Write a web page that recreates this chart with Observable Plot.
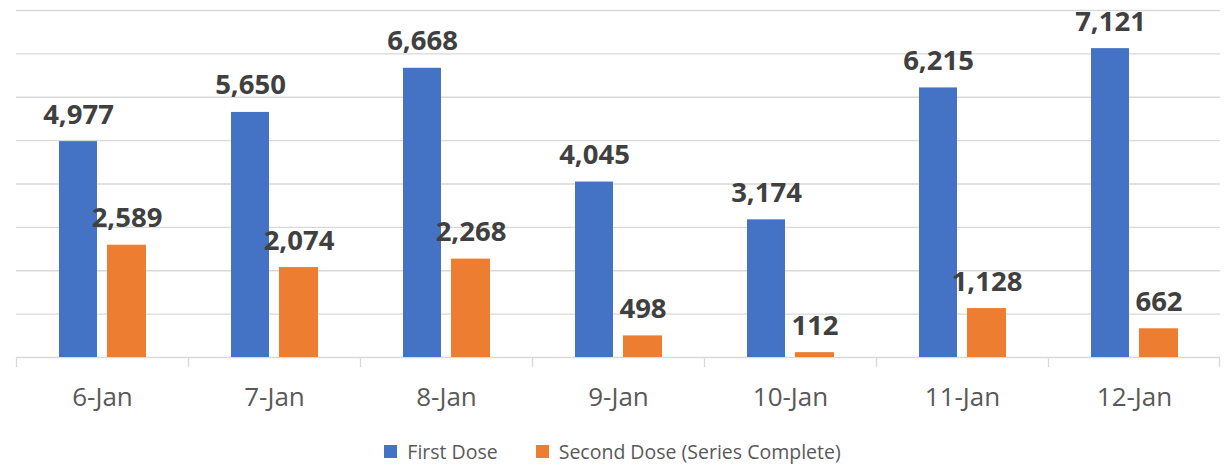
<!DOCTYPE html>
<html>
<head>
<meta charset="utf-8">
<script src="https://cdn.jsdelivr.net/npm/d3@7"></script>
<script src="https://cdn.jsdelivr.net/npm/@observablehq/plot@0.6"></script>
<style>
  html, body { margin: 0; padding: 0; background: #fff; }
  #chart { width: 1225px; }
  .legend { display: flex; justify-content: center; align-items: center; height: 43px; font-family: "Open Sans", sans-serif; font-size: 19.5px; color: #595959; padding-left: 0px; }
  .legend .item { display: flex; align-items: center; }
  .legend .sw { width: 13px; height: 13px; margin-right: 10px; }
  .legend .item + .item { margin-left: 38px; }
</style>
</head>
<body>
<div id="chart"></div>
<script>
const dates = ["6-Jan", "7-Jan", "8-Jan", "9-Jan", "10-Jan", "11-Jan", "12-Jan"];
const firstDose = [4977, 5650, 6668, 4045, 3174, 6215, 7121];
const secondDose = [2589, 2074, 2268, 498, 112, 1128, 662];
const seriesNames = ["First Dose", "Second Dose (Series Complete)"];
const seriesColors = ["#4472C4", "#ED7D31"];
const yTicks = [1000, 2000, 3000, 4000, 5000, 6000, 7000, 8000];

const first = dates.map((d, i) => ({date: d, value: firstDose[i], series: seriesNames[0]}));
const second = dates.map((d, i) => ({date: d, value: secondDose[i], series: seriesNames[1]}));

const W = 1225, H = 430, mL = 16, mR = 5, mT = 10, mB = 73;
const half = (W - mL - mR) / dates.length / 2;
const fmt = d3.format(",");
const grid = "#d9d9d9";

const chart = Plot.plot({
  width: W, height: H,
  marginLeft: mL, marginRight: mR, marginTop: mT, marginBottom: mB,
  style: {fontFamily: "'Open Sans', sans-serif", background: "#fff"},
  x: {domain: dates, padding: 0, label: null, tickSize: 0, tickPadding: 30},
  y: {domain: [0, 8000], axis: null},
  color: {domain: seriesNames, range: seriesColors},
  marks: [
    Plot.ruleY(yTicks, {stroke: grid, strokeWidth: 1.3}),
    Plot.ruleY([0], {stroke: grid, strokeWidth: 1.3}),
    Plot.ruleX(dates, {x: d => d, y1: 0, y2: 0, insetBottom: -10, dx: -half, stroke: grid, strokeWidth: 1.3}),
    Plot.ruleX([dates[dates.length - 1]], {x: d => d, y1: 0, y2: 0, insetBottom: -10, dx: half - 1, stroke: grid, strokeWidth: 1.3}),
    Plot.barY(first, {x: "date", y: "value", fill: "series", insetLeft: 43, insetRight: 91}),
    Plot.barY(second, {x: "date", y: "value", fill: "series", insetLeft: 91, insetRight: 42}),
    Plot.text(first, {x: "date", y: "value", text: d => fmt(d.value), dx: -24, dy: -18, lineAnchor: "bottom", fontSize: 27.5, fontWeight: "bold", fill: "#404040"}),
    Plot.text(second, {x: "date", y: "value", text: d => fmt(d.value), dx: 24.5, dy: -18, lineAnchor: "bottom", fontSize: 27.5, fontWeight: "bold", fill: "#404040"}),
    Plot.axisX({tickSize: 0, tickPadding: 30, fontSize: 26, fill: "#595959", label: null})
  ]
});
document.getElementById("chart").appendChild(chart);

const legend = document.createElement("div");
legend.className = "legend";
seriesNames.forEach((name, i) => {
  const item = document.createElement("div");
  item.className = "item";
  const sw = document.createElement("span");
  sw.className = "sw";
  sw.style.background = seriesColors[i];
  const t = document.createElement("span");
  t.textContent = name;
  item.appendChild(sw); item.appendChild(t);
  legend.appendChild(item);
});
document.getElementById("chart").appendChild(legend);
</script>
</body>
</html>
